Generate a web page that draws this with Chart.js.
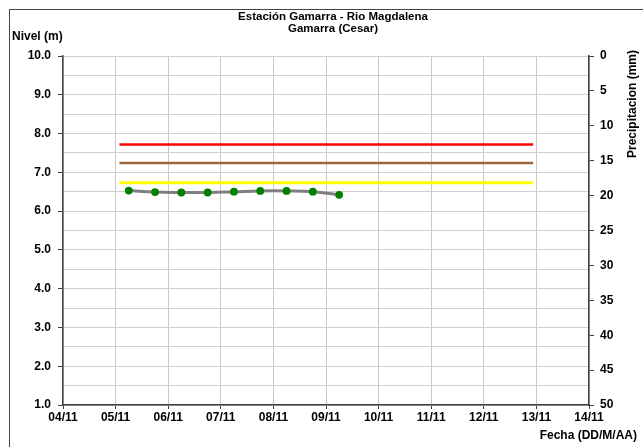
<!DOCTYPE html>
<html lang="es">
<head>
<meta charset="UTF-8">
<title>Estación Gamarra - Rio Magdalena</title>
<script src="https://cdn.jsdelivr.net/npm/chart.js@4.4.0/dist/chart.umd.min.js"></script>
<style>
  * { margin: 0; padding: 0; box-sizing: border-box; }
  body { width: 643px; height: 447px; background: #fff; overflow: hidden; position: relative; }
  .frame { position: absolute; left: 9px; top: 9px; width: 660px; height: 460px; border: 1.5px solid #444; }
  canvas { position: absolute; left: 0; top: 0; }
</style>
</head>
<body>
<div class="frame"></div>
<canvas id="chart" width="643" height="447"></canvas>
<script>
// ── Data ─────────────────────────────────────────────────────────────────────
const dayLabels = ["04/11", "05/11", "06/11", "07/11", "08/11", "09/11",
                   "10/11", "11/11", "12/11", "13/11", "14/11"];

// water level readings (DD/MM HH:MM) and values in metres
const levelTimes = ["05/11 06:00", "05/11 18:00", "06/11 06:00", "06/11 18:00",
                    "07/11 06:00", "07/11 18:00", "08/11 06:00", "08/11 18:00",
                    "09/11 06:00"];
const levelValues = [6.53, 6.49, 6.48, 6.48, 6.50, 6.52, 6.52, 6.50, 6.42];

// alert thresholds (m) and the span they are drawn over
const alertRed = 7.72;
const alertBrown = 7.24;
const alertYellow = 6.73;
const alertSpan = ["05/11 01:45", "12/11 22:30"];

// precipitation axis (reversed, mm)
const precipMax = 50;

// ── Helpers ──────────────────────────────────────────────────────────────────
// days since 04/11 00:00
function toDays(stamp) {
  const [date, time] = stamp.split(" ");
  const day = parseInt(date.split("/")[0], 10);
  const [hh, mm] = time.split(":").map(Number);
  return day - 4 + (hh + mm / 60) / 24;
}

const levelPoints = levelTimes.map((t, i) => ({ x: toDays(t), y: levelValues[i] }));
const spanLine = (v) => alertSpan.map((t) => ({ x: toDays(t), y: v }));

const FONT = "'Liberation Sans', Arial, sans-serif";

// ── Extra text: titles and axis captions ─────────────────────────────────────
const captions = {
  id: "captions",
  afterDraw(chart) {
    const { ctx } = chart;
    ctx.save();
    ctx.fillStyle = "#000";
    ctx.font = `bold 11.5px ${FONT}`;
    ctx.textAlign = "center";
    ctx.textBaseline = "middle";
    ctx.fillText("Estación Gamarra - Rio Magdalena", 333, 17);
    ctx.fillText("Gamarra (Cesar)", 333, 29);

    ctx.font = `bold 12px ${FONT}`;
    ctx.textAlign = "left";
    ctx.fillText("Nivel (m)", 12, 37);

    ctx.textAlign = "right";
    ctx.fillText("Fecha (DD/M/AA)", 637, 436);

    ctx.translate(633, 104);
    ctx.rotate(-Math.PI / 2);
    ctx.textAlign = "center";
    ctx.fillText("Precipitacion (mm)", 0, 0);
    ctx.restore();
  }
};

// ── Chart ────────────────────────────────────────────────────────────────────
new Chart(document.getElementById("chart"), {
  type: "line",
  data: {
    datasets: [
      { data: spanLine(alertRed), borderColor: "#ff0000", borderWidth: 2.5, pointRadius: 0, yAxisID: "y" },
      { data: spanLine(alertBrown), borderColor: "#9c6a42", borderWidth: 2.5, pointRadius: 0, yAxisID: "y" },
      { data: spanLine(alertYellow), borderColor: "#ffff00", borderWidth: 3, pointRadius: 0, yAxisID: "y" },
      {
        data: levelPoints,
        borderColor: "#7f7f7f",
        borderWidth: 3,
        tension: 0.4,
        pointRadius: 2.4,
        pointBackgroundColor: "#008000",
        pointBorderColor: "#008000",
        yAxisID: "y"
      }
    ]
  },
  options: {
    responsive: false,
    animation: false,
    events: [],
    layout: { padding: { top: 56, left: 0, right: 0, bottom: 0 } },
    plugins: { legend: { display: false }, tooltip: { enabled: false }, title: { display: false } },
    scales: {
      x: {
        type: "linear",
        min: 0,
        max: dayLabels.length - 1,
        afterFit: (s) => { s.height = 42; },
        afterBuildTicks: (s) => { s.ticks = dayLabels.map((_, i) => ({ value: i })); },
        ticks: {
          stepSize: 1,
          autoSkip: false,
          maxRotation: 0,
          color: "#000",
          padding: 1,
          font: { family: FONT, size: 12, weight: "bold" },
          callback: (v) => dayLabels[v] ?? ""
        },
        grid: { color: "#c8c8c8", lineWidth: 1, tickLength: 4, tickColor: "#404040" },
        border: { color: "#404040", width: 1.5 }
      },
      y: {
        position: "left",
        min: 1,
        max: 10,
        afterFit: (s) => { s.width = 63; },
        ticks: {
          stepSize: 0.5,
          color: "#000",
          padding: 7,
          font: { family: FONT, size: 12, weight: "bold" },
          callback: (v) => (Number.isInteger(v) ? v.toFixed(1) : "")
        },
        grid: {
          color: "#cfcfcf",
          lineWidth: 1,
          tickLength: 5,
          tickColor: (c) => (c.tick && Number.isInteger(c.tick.value) ? "#404040" : "rgba(0,0,0,0)")
        },
        border: { color: "#404040", width: 1.5 }
      },
      y2: {
        position: "right",
        min: 0,
        max: precipMax,
        reverse: true,
        afterFit: (s) => { s.width = 54; },
        ticks: {
          stepSize: 5,
          color: "#000",
          padding: 6,
          font: { family: FONT, size: 12, weight: "bold" }
        },
        grid: { drawOnChartArea: false, tickLength: 5, tickColor: "#404040" },
        border: { color: "#404040", width: 1.5 }
      }
    }
  },
  plugins: [captions]
});
</script>
</body>
</html>
